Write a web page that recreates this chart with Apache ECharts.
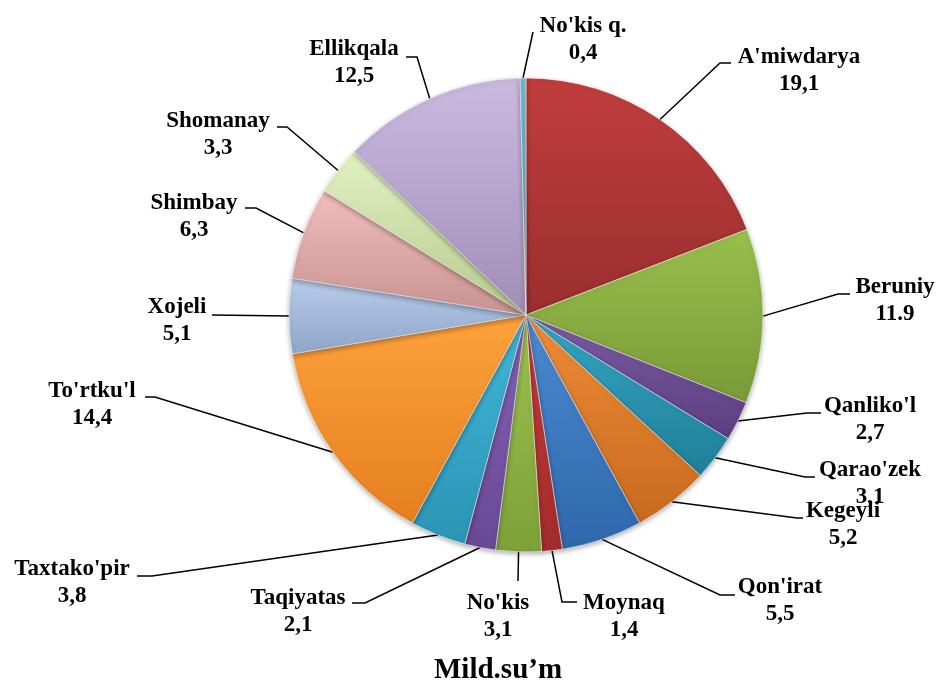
<!DOCTYPE html>
<html>
<head>
<meta charset="utf-8">
<script src="https://cdn.jsdelivr.net/npm/echarts@6/dist/echarts.min.js"></script>
<style>
  html, body { margin: 0; padding: 0; background: #fff; }
  #chart { width: 937px; height: 680px; }
</style>
</head>
<body>
<div id="chart"></div>
<script>
// districts, clockwise from 12 o'clock
const districts = ["A'miwdarya", 'Beruniy', "Qanliko'l", "Qarao'zek", 'Kegeyli', "Qon'irat", 'Moynaq', "No'kis",
  'Taqiyatas', "Taxtako'pir", "To'rtku'l", 'Xojeli', 'Shimbay', 'Shomanay', 'Ellikqala', "No'kis q."];
const values = [19.1, 11.9, 2.7, 3.1, 5.2, 5.5, 1.4, 3.1, 2.1, 3.8, 14.4, 5.1, 6.3, 3.3, 12.5, 0.4];
// value text exactly as printed on the chart
const valueText = ['19,1', '11.9', '2,7', '3,1', '5,2', '5,5', '1,4', '3,1', '2,1', '3,8', '14,4', '5,1', '6,3', '3,3', '12,5', '0,4'];

// slice colours: [top, bottom]
const sliceColors = [
  ['#c03e3d', '#9a2e2e'], ['#98c04d', '#799a37'], ['#7b5ba4', '#5b3e7f'], ['#36a6c4', '#1f7e98'],
  ['#ef8b36', '#c76a1f'], ['#4b8bd1', '#2f67ab'], ['#c63c3c', '#a32b2b'], ['#9dc34f', '#7da039'],
  ['#8662b4', '#694895'], ['#43b7d9', '#2a94b4'], ['#fda23c', '#e47f1f'], ['#b9cdeb', '#8ea5c8'],
  ['#f1bebd', '#c79391'], ['#e3f1c2', '#b6ca8e'], ['#cbbae0', '#a08eb7'], ['#70b9d0', '#4992a9']
];

// label placement: [centerX, centerY, kneeX, kneeY, endX, endY]
const labelSpots = [
  [799, 71, 720, 63, 731, 63],
  [895, 301, 838, 294, 850, 294],
  [870, 420, 807, 413, 821, 413],
  [870, 484, 805, 477, 815, 477],
  [843, 525, 797, 518, 803, 518],
  [780, 601, 720, 595, 735, 595],
  [624, 617, 562, 602, 577, 602],
  [498, 617, 518, 581, 518, 581],
  [298, 612, 365, 603, 352, 603],
  [72, 583, 152, 576, 137, 576],
  [92, 405, 155, 397, 145, 397],
  [177, 321, 212, 315, 212, 315],
  [194, 217, 256, 208, 245, 208],
  [218, 135, 287, 127, 277, 127],
  [354, 63, 417, 57, 406, 57],
  [583, 40, 533, 32, 533, 32]
];

const serif = "'Liberation Serif', 'Times New Roman', serif";
const cx = 526, cy = 315, radius = 237;

const chart = echarts.init(document.getElementById('chart'));

const option = {
  backgroundColor: '#fff',
  title: {
    text: 'Mild.su’m',
    left: 434,
    top: 656,
    padding: 0,
    textStyle: { fontFamily: serif, fontWeight: 'bold', fontSize: 29, color: '#000' }
  },
  series: [
    {
      type: 'pie',
      center: [cx, cy],
      radius: radius,
      startAngle: 90,
      clockwise: true,
      avoidLabelOverlap: false,
      animation: false,
      data: districts.map((name, i) => ({
        name: name,
        value: values[i],
        itemStyle: {
          color: new echarts.graphic.LinearGradient(0, 0, 0, 1, [
            { offset: 0, color: sliceColors[i][0] },
            { offset: 1, color: sliceColors[i][1] }
          ])
        }
      })),
      itemStyle: {
        borderColor: 'rgba(255,255,255,0.5)',
        borderWidth: 1,
        shadowBlur: 5,
        shadowOffsetY: 2,
        shadowColor: 'rgba(0,0,0,0.3)'
      },
      label: {
        show: true,
        formatter: (p) => p.name + '\n' + valueText[p.dataIndex],
        fontFamily: serif,
        fontWeight: 'bold',
        fontSize: 23,
        lineHeight: 27,
        color: '#000',
        align: 'center'
      },
      labelLine: {
        show: true,
        length: 10,
        length2: 10,
        lineStyle: { color: '#000', width: 1.5 }
      },
      labelLayout: function (params) {
        const s = labelSpots[params.dataIndex];
        let start;
        if (params.labelLinePoints && params.labelLinePoints[0]) {
          start = params.labelLinePoints[0];
        } else {
          let before = 0;
          for (let k = 0; k < params.dataIndex; k++) before += values[k];
          const total = values.reduce((a, b) => a + b, 0);
          const mid = (before + values[params.dataIndex] / 2) / total * Math.PI * 2;
          start = [cx + radius * Math.sin(mid), cy - radius * Math.cos(mid)];
        }
        return {
          x: s[0],
          y: s[1],
          align: 'center',
          verticalAlign: 'middle',
          labelLinePoints: [start, [s[2], s[3]], [s[4], s[5]]]
        };
      }
    }
  ]
};

chart.setOption(option);
</script>
</body>
</html>
